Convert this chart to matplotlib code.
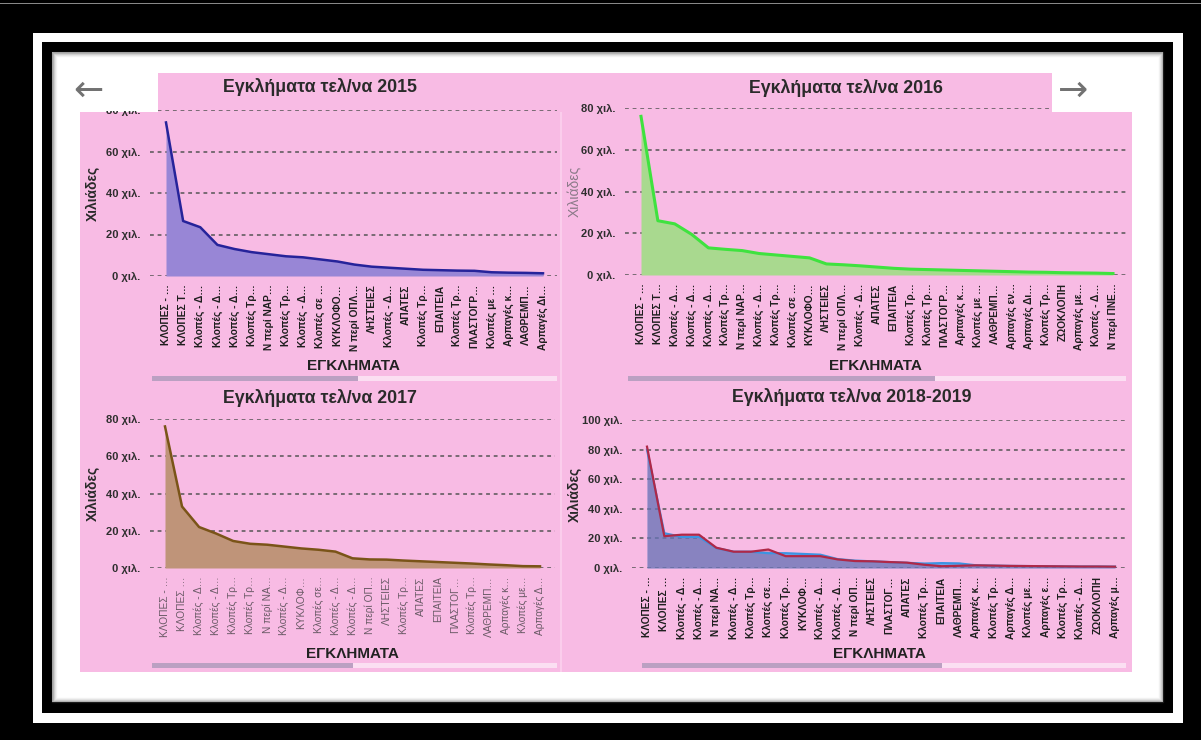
import numpy as np
import matplotlib.pyplot as plt
from matplotlib.patches import Rectangle
from matplotlib.ticker import FuncFormatter

plt.rcParams['font.family'] = ['Liberation Sans', 'DejaVu Sans']

# ---- data (χιλιάδες) ----
labels_2015 = ["ΚΛΟΠΕΣ - …", "ΚΛΟΠΕΣ Τ…", "Κλοπές - Δ…", "Κλοπές - Δ…", "Κλοπές - Δ…",
               "Κλοπές Τρ…", "Ν περί ΝΑΡ…", "Κλοπές Τρ…", "Κλοπές - Δ…", "Κλοπές σε …",
               "ΚΥΚΛΟΦΟ…", "Ν περί ΟΠΛ…", "ΛΗΣΤΕΙΕΣ", "Κλοπές - Δ…", "ΑΠΑΤΕΣ",
               "Κλοπές Τρ…", "ΕΠΑΙΤΕΙΑ", "Κλοπές Τρ…", "ΠΛΑΣΤΟΓΡ…", "Κλοπές με …",
               "Αρπαγές κ…", "ΛΑΘΡΕΜΠ…", "Αρπαγές Δι…"]
vals_2015 = [74, 26.5, 23.5, 15, 13, 11.5, 10.5, 9.5, 9, 8, 7, 5.5, 4.5, 4,
             3.5, 3, 2.8, 2.6, 2.5, 1.8, 1.6, 1.5, 1.3]

labels_2016 = ["ΚΛΟΠΕΣ - …", "ΚΛΟΠΕΣ Τ…", "Κλοπές - Δ…", "Κλοπές - Δ…", "Κλοπές - Δ…",
               "Κλοπές Τρ…", "Ν περί ΝΑΡ…", "Κλοπές - Δ…", "Κλοπές Τρ…", "Κλοπές σε …",
               "ΚΥΚΛΟΦΟ…", "ΛΗΣΤΕΙΕΣ", "Ν περί ΟΠΛ…", "Κλοπές - Δ…", "ΑΠΑΤΕΣ",
               "ΕΠΑΙΤΕΙΑ", "Κλοπές Τρ…", "Κλοπές Τρ…", "ΠΛΑΣΤΟΓΡ…", "Αρπαγές κ…",
               "Κλοπές με …", "ΛΑΘΡΕΜΠ…", "Αρπαγές εν…", "Αρπαγές Δι…", "Κλοπές Τρ…",
               "ΖΩΟΚΛΟΠΗ", "Αρπαγές με…", "Κλοπές - Δ…", "Ν περί ΠΝΕ…"]
vals_2016 = [76, 26, 24.5, 19.5, 13, 12.3, 11.7, 10.3, 9.6, 8.9, 8.2, 5.3, 4.9, 4.4,
             3.8, 3.2, 2.8, 2.6, 2.4, 2.2, 2.0, 1.8, 1.6, 1.4, 1.3, 1.1, 1.0, 0.9, 0.7]

labels_2017 = ["ΚΛΟΠΕΣ - …", "ΚΛΟΠΕΣ …", "Κλοπές - Δ…", "Κλοπές - Δ…", "Κλοπές Τρ…",
               "Κλοπές Τρ…", "Ν περί ΝΑ…", "Κλοπές - Δ…", "ΚΥΚΛΟΦ…", "Κλοπές σε…",
               "Κλοπές - Δ…", "Κλοπές - Δ…", "Ν περί ΟΠ…", "ΛΗΣΤΕΙΕΣ", "Κλοπές Τρ…",
               "ΑΠΑΤΕΣ", "ΕΠΑΙΤΕΙΑ", "ΠΛΑΣΤΟΓ…", "Κλοπές Τρ…", "ΛΑΘΡΕΜΠ…",
               "Αρπαγές κ…", "Κλοπές με…", "Αρπαγές Δ…"]
vals_2017 = [76, 33, 22, 18.5, 14.5, 13, 12.5, 11.5, 10.5, 9.8, 8.8, 5.2, 4.6, 4.5,
             4, 3.6, 3.2, 2.8, 2.4, 1.9, 1.5, 1.0, 0.9]

labels_1819 = ["ΚΛΟΠΕΣ - …", "ΚΛΟΠΕΣ …", "Κλοπές - Δ…", "Κλοπές - Δ…", "Ν περί ΝΑ…",
               "Κλοπές - Δ…", "Κλοπές Τρ…", "Κλοπές σε…", "Κλοπές Τρ…", "ΚΥΚΛΟΦ…",
               "Κλοπές - Δ…", "Κλοπές - Δ…", "Ν περί ΟΠ…", "ΛΗΣΤΕΙΕΣ", "ΠΛΑΣΤΟΓ…",
               "ΑΠΑΤΕΣ", "Κλοπές Τρ…", "ΕΠΑΙΤΕΙΑ", "ΛΑΘΡΕΜΠ…", "Αρπαγές κ…",
               "Κλοπές Τρ…", "Αρπαγές Δ…", "Κλοπές με…", "Αρπαγές ε…", "Κλοπές Τρ…",
               "Κλοπές - Δ…", "ΖΩΟΚΛΟΠΗ", "Αρπαγές μ…"]
vals_2018 = [80, 23.5, 21, 21, 13.5, 11, 11, 10, 10, 9.5, 9, 6, 5, 4.5,
             4, 3.5, 3.0, 3.3, 3.1, 1.8, 1.6, 1.4, 1.3, 1.2, 1.1, 1.0, 1.0, 0.9]
vals_2019 = [82, 21.5, 22.5, 22.5, 13.7, 11, 11, 12.5, 8, 8, 8, 5.8, 4.7, 4.5,
             4, 3.6, 2.2, 1.2, 1.5, 1.8, 1.6, 1.4, 1.3, 1.2, 1.1, 1.0, 1.0, 0.9]

W, H = 1201, 740
PINK = '#f8bbe4'
fig = plt.figure(figsize=(W / 100, H / 100), dpi=100)
fig.patch.set_facecolor('black')


def rect(x0, y0, x1, y1, z=0, **kw):
    r = Rectangle((x0 / W, 1 - y1 / H), (x1 - x0) / W, (y1 - y0) / H,
                  transform=fig.transFigure, zorder=z, **kw)
    fig.add_artist(r)
    return r


# frame
rect(0, 3, W, 4, color='#888888', lw=0)
rect(33, 33, 1183, 723, color='white', lw=0)
rect(42, 42, 1173, 713, color='black', lw=0)
rect(52, 52, 1163, 702, color='white', lw=0)
for i, a in enumerate([0.45, 0.3, 0.18, 0.1, 0.05]):
    rect(52 + i, 52 + i, 1163 - i, 702 - i, fill=False, ec='#404040', lw=1.0, alpha=a)

# pink canvas
rect(158, 73, 1052, 113, color=PINK, lw=0)
rect(80, 112, 1132, 672, color=PINK, lw=0)
rect(560, 112, 562, 672, color='#fbcdec', lw=0)

# arrows
fig.text(88 / W, 1 - 91 / H, '←', fontsize=26, color='#727272', ha='center', va='center',
         family='DejaVu Sans', zorder=10)
fig.text(1073 / W, 1 - 91 / H, '→', fontsize=26, color='#727272', ha='center', va='center',
         family='DejaVu Sans', zorder=10)


def panel(box, labels, ymax, title, title_xy, ylab_x, xlab_y, light=False, ylight=False):
    x0, x1, ytop, ybot = box
    ax = fig.add_axes([x0 / W, 1 - ybot / H, (x1 - x0) / W, (ybot - ytop) / H])
    ax.patch.set_alpha(0)
    for s in ax.spines.values():
        s.set_visible(False)
    n = len(labels)
    ax.set_ylim(0, ymax)
    ax.set_yticks(np.arange(0, ymax + 1, 20))
    ax.yaxis.set_major_formatter(FuncFormatter(lambda v, p: f'{int(v)} χιλ.'))
    ax.set_xticks(np.arange(n))
    ax.set_xticklabels(labels, rotation=90, fontsize=7.3,
                       fontweight='normal' if light else 'bold',
                       color='#6a5a66' if light else '#1e1e1e')
    ax.tick_params(length=0)
    ax.tick_params(axis='x', pad=6)
    ax.tick_params(axis='y', pad=7, labelsize=8, labelcolor='#2e2e2e')
    for t in ax.get_yticklabels():
        t.set_fontweight('bold')
    ax.grid(axis='y', color='#555555', ls=(0, (2.5, 2.5)), lw=1.1)
    ax.grid(axis='x', visible=False)
    ax.set_axisbelow(True)
    fig.text(title_xy[0] / W, 1 - title_xy[1] / H, title, fontsize=12.8,
             fontweight='bold', color='#2a2a2a', ha='center', va='center')
    fig.text(ylab_x / W, 1 - (ytop + ybot) / 2 / H, 'Χιλιάδες', rotation=90,
             fontsize=10, ha='center', va='center',
             fontweight='normal' if ylight else 'bold',
             color='#8a7a88' if ylight else '#2a2a2a')
    fig.text((x0 + x1) / 2 / W, 1 - xlab_y / H, 'ΕΓΚΛΗΜΑΤΑ', fontsize=11,
             fontweight='bold', color='#222222', ha='center', va='center')
    return ax


def span(first, last, n, left, right):
    step = (last - first) / (n - 1)
    return left, right, -(first - left) / step, (n - 1) + (right - last) / step


def scrollbar(x0, x1, thumb, y):
    rect(x0, y - 2.5, x1, y + 2.5, color='#fbdff2', lw=0)
    rect(x0, y - 2.5, thumb, y + 2.5, color='#bba0c2', lw=0)


# 2015
l, r, xa, xb = span(166, 543, len(labels_2015), 150, 557)
ax = panel((l, r, 110, 276), labels_2015, 80, 'Εγκλήματα τελ/να 2015', (320, 87), 93, 366)
ax.set_xlim(xa, xb)
x = np.arange(len(vals_2015))
ax.fill_between(x, vals_2015, color='#9886d6', lw=0)
ax.plot(x, vals_2015, color='#26239a', lw=1.8)
scrollbar(152, 557, 358, 378)

# 2016
l, r, xa, xb = span(641, 1113, len(labels_2016), 625, 1126)
ax = panel((l, r, 108, 275), labels_2016, 80, 'Εγκλήματα τελ/να 2016', (846, 88), 575, 366,
           ylight=True)
ax.set_xlim(xa, xb)
x = np.arange(len(vals_2016))
ax.fill_between(x, vals_2016, color='#a9d98f', lw=0)
ax.plot(x, vals_2016, color='#3fe23f', lw=2.2)
scrollbar(628, 1126, 935, 378)

# 2017
l, r, xa, xb = span(165, 540, len(labels_2017), 150, 555)
ax = panel((l, r, 419, 568), labels_2017, 80, 'Εγκλήματα τελ/να 2017', (320, 398), 93, 654,
           light=True)
ax.set_xlim(xa, xb)
x = np.arange(len(vals_2017))
ax.fill_between(x, vals_2017, color='#bf9479', lw=0)
ax.plot(x, vals_2017, color='#7a5418', lw=1.8)
scrollbar(152, 557, 353, 665)

# 2018-2019
l, r, xa, xb = span(647, 1115, len(labels_1819), 632, 1126)
ax = panel((l, r, 420, 568), labels_1819, 100, 'Εγκλήματα τελ/να 2018-2019', (852, 397), 575, 654)
ax.set_xlim(xa, xb)
x = np.arange(len(vals_2018))
ax.fill_between(x, vals_2018, color='#3a9ff0', alpha=0.65, lw=0)
ax.fill_between(x, vals_2019, color='#a04070', alpha=0.35, lw=0)
ax.plot(x, vals_2018, color='#3c94e2', lw=1.6)
ax.plot(x, vals_2019, color='#b02848', lw=1.6)
scrollbar(642, 1126, 942, 665)

# white strip hiding top of the 2015 "80" label
rect(80, 60, 158, 111, z=5, color='white', lw=0)
rect(1052, 60, 1132, 111, z=5, color='white', lw=0)

fig.savefig('out.png', dpi=100, facecolor='black')
